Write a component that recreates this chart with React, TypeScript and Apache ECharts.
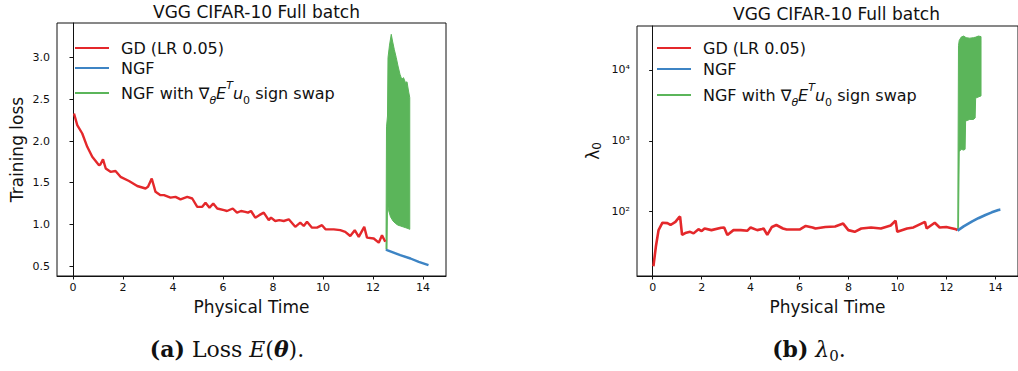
import React, { useEffect, useRef } from "react";
import * as echarts from "echarts";

// ---------- data ----------
const titleText = "VGG CIFAR-10 Full batch";
const xName = "Physical Time";
const seriesNames = ["GD (LR 0.05)", "NGF", "NGF with \u2207\u03b8E\u1d40u0 sign swap"];
const xTicks = [0, 2, 4, 6, 8, 10, 12, 14];
const lossTicks = [0.5, 1.0, 1.5, 2.0, 2.5, 3.0];
const lambdaTicks = [100, 1000, 10000];
const lambdaTickLabels = ["10\u00b2", "10\u00b3", "10\u2074"];
const lambdaMinorTicks = [20, 30, 40, 50, 60, 70, 80, 90, 200, 300, 400, 500, 600, 700, 800, 900,
  2000, 3000, 4000, 5000, 6000, 7000, 8000, 9000, 20000, 30000, 40000];

// Loss E(theta): [physical time, loss]
const gdLoss = [
  [0.04, 2.33], [0.17, 2.19], [0.37, 2.09], [0.57, 1.93], [0.77, 1.81], [1.04, 1.71], [1.1, 1.72],
  [1.2, 1.78], [1.31, 1.67], [1.5, 1.63], [1.7, 1.64], [1.9, 1.57], [2.24, 1.52], [2.57, 1.46],
  [2.9, 1.43], [3.0, 1.45], [3.15, 1.55], [3.3, 1.39], [3.5, 1.35], [3.64, 1.35], [3.9, 1.32],
  [4.1, 1.33], [4.3, 1.3], [4.57, 1.33], [4.77, 1.31], [4.97, 1.21], [5.17, 1.21], [5.3, 1.26],
  [5.46, 1.2], [5.61, 1.25], [5.77, 1.19], [6.04, 1.17], [6.16, 1.16], [6.39, 1.19], [6.56, 1.14],
  [6.72, 1.16], [6.89, 1.15], [7.0, 1.14], [7.12, 1.16], [7.29, 1.08], [7.45, 1.11], [7.63, 1.14],
  [7.83, 1.05], [7.92, 1.08], [8.09, 1.04], [8.25, 1.05], [8.43, 1.04], [8.63, 1.06], [8.89, 0.97],
  [9.09, 1.02], [9.23, 0.98], [9.36, 1.03], [9.56, 0.96], [9.76, 0.96], [9.96, 0.99], [10.1, 0.94],
  [10.43, 0.94], [10.69, 0.93], [10.89, 0.91], [11.09, 0.86], [11.27, 0.93], [11.43, 0.85],
  [11.65, 0.97], [11.76, 0.84], [12.03, 0.83], [12.23, 0.78], [12.36, 0.87], [12.49, 0.79],
];
const ngfLoss = [[12.52, 0.7], [12.56, 0.69], [13.09, 0.63], [13.5, 0.59], [13.83, 0.55], [14.22, 0.51]];
const swapLossUpper = [
  [12.52, 0.7], [12.54, 2.17], [12.58, 2.3], [12.6, 3.0], [12.66, 3.15], [12.73, 3.28], [12.78, 3.2],
  [12.85, 3.1], [12.93, 3.0], [13.0, 2.9], [13.08, 2.8], [13.15, 2.74], [13.22, 2.76], [13.3, 2.7],
  [13.36, 2.71], [13.42, 2.6], [13.47, 2.52],
];
const swapLossLower = [
  [12.52, 0.7], [12.56, 0.7], [12.58, 1.25], [12.62, 1.17], [12.7, 1.09], [12.8, 1.04], [12.9, 1.01],
  [13.0, 0.99], [13.1, 0.98], [13.2, 0.97], [13.3, 0.96], [13.4, 0.95], [13.47, 0.94],
];

// lambda_0: [physical time, lambda]
const gdLambda = [
  [0.03, 17], [0.13, 32], [0.24, 55], [0.4, 70], [0.6, 69], [0.73, 65], [0.93, 72], [1.07, 83],
  [1.12, 85], [1.2, 47], [1.33, 50], [1.53, 52], [1.67, 49.5], [1.87, 56.6], [2.0, 53.4], [2.12, 58],
  [2.4, 55], [2.8, 59.4], [2.92, 60], [3.05, 47], [3.3, 55], [3.6, 55], [3.87, 54], [4.0, 60],
  [4.27, 55], [4.47, 57], [4.53, 58], [4.68, 47], [4.87, 61], [5.05, 65], [5.32, 58], [5.47, 56],
  [5.72, 56], [6.0, 56], [6.25, 63], [6.53, 60], [6.65, 58], [7.05, 61], [7.45, 62], [7.78, 68],
  [7.99, 55], [8.25, 52], [8.52, 58], [8.92, 60], [9.32, 58], [9.72, 64], [9.92, 75], [9.99, 52],
  [10.39, 58], [10.65, 60], [11.12, 72], [11.19, 58], [11.52, 70], [11.72, 60], [11.99, 61],
  [12.39, 56.5], [12.45, 55],
];
const ngfLambda = [[12.45, 54], [12.7, 62], [13.05, 73], [13.3, 81], [13.59, 90], [13.85, 98], [14.12, 106], [14.2, 107]];
const swapLambdaUpper = [
  [12.46, 55], [12.49, 22000], [12.52, 26000], [12.6, 29000], [12.7, 30000], [12.8, 28500],
  [12.95, 28000], [13.1, 28500], [13.2, 29000], [13.3, 30000], [13.41, 29500],
];
const swapLambdaLower = [
  [12.46, 55], [12.49, 60], [12.52, 700], [12.6, 760], [12.7, 740], [12.76, 760], [12.78, 1900],
  [12.95, 2000], [13.1, 2000], [13.17, 2100], [13.19, 4000], [13.41, 4300],
];

// ---------- style ----------
const RED = "#e4282b";
const BLUE = "#3d84c4";
const GREEN = "#5bb55a";
const INK = "#111111";
const FONT = "DejaVu Sans";

const legendRich = {
  pad: { width: 7 },
  n: { fontSize: 16, fontFamily: FONT, color: INK, lineHeight: 20 },
  it: { fontSize: 16, fontFamily: FONT, color: INK, fontStyle: "italic", lineHeight: 20 },
  sub: { fontSize: 11, fontFamily: FONT, color: INK, verticalAlign: "bottom", lineHeight: 14 },
  subi: { fontSize: 11, fontFamily: FONT, color: INK, fontStyle: "italic", verticalAlign: "bottom", lineHeight: 14 },
  sup: { fontSize: 11, fontFamily: FONT, color: INK, fontStyle: "italic", verticalAlign: "top", lineHeight: 26 },
};

function legendFormatter(name: string) {
  if (name === seriesNames[2]) {
    return "{pad| }{n|NGF with \u2207}{subi|\u03b8}{it|E}{sup|T}{it|u}{sub|0}{n| sign swap}";
  }
  return "{pad| }{n|" + name + "}";
}

function band(upper: number[][], lower: number[][], xi: number, yi: number, mid: number[]) {
  return {
    type: "custom",
    name: seriesNames[2],
    xAxisIndex: xi,
    yAxisIndex: yi,
    clip: true,
    itemStyle: { color: GREEN },
    data: [mid],
    renderItem: (_params: any, api: any) => {
      const pts = upper.map((p) => api.coord(p)).concat(lower.slice().reverse().map((p) => api.coord(p)));
      return {
        type: "polygon",
        shape: { points: pts },
        style: { fill: GREEN, stroke: GREEN, lineWidth: 1 },
      };
    },
  };
}

function xAxis(gridIndex: number) {
  return {
    type: "value",
    gridIndex,
    min: -0.64,
    max: 14.92,
    axisLine: { show: true, lineStyle: { color: INK, width: 1 } },
    axisTick: { show: true, customValues: xTicks, length: 3.5, lineStyle: { color: INK } },
    axisLabel: { customValues: xTicks, fontSize: 11, color: INK, margin: 6, fontFamily: FONT },
    splitLine: { show: false },
    name: xName,
    nameLocation: "middle",
    nameGap: 22,
    nameTextStyle: { fontSize: 17, color: INK, fontFamily: FONT },
  };
}

export default function App() {
  const ref = useRef<HTMLDivElement>(null);
  useEffect(() => {
    if (!ref.current) return;
    const chart = echarts.init(ref.current, undefined, { renderer: "svg" });
    const option: any = {
      animation: false,
      textStyle: { fontFamily: FONT },
      title: [
        { text: titleText, left: 251.5, top: -2, textAlign: "center",
          textStyle: { fontSize: 17, fontWeight: "normal", color: INK, fontFamily: FONT } },
        { text: titleText, left: 831.5, top: 0, textAlign: "center",
          textStyle: { fontSize: 17, fontWeight: "normal", color: INK, fontFamily: FONT } },
      ],
      legend: [
        { left: 70, top: 35, orient: "vertical", itemWidth: 34, itemHeight: 2, itemGap: 4, icon: "rect",
          selectedMode: false, data: seriesNames, formatter: legendFormatter,
          textStyle: { fontSize: 16, color: INK, fontFamily: FONT, rich: legendRich } },
        { left: 652, top: 35, orient: "vertical", itemWidth: 34, itemHeight: 2, itemGap: 5, icon: "rect",
          selectedMode: false, data: seriesNames, formatter: legendFormatter,
          textStyle: { fontSize: 16, color: INK, fontFamily: FONT, rich: legendRich } },
      ],
      grid: [
        { left: 57, top: 23, width: 389, height: 253, show: true, borderColor: INK, borderWidth: 1 },
        { left: 637, top: 26, width: 389, height: 250, show: true, borderColor: INK, borderWidth: 1 },
      ],
      xAxis: [xAxis(0), xAxis(1)],
      yAxis: [
        {
          type: "value", gridIndex: 0, min: 0.38, max: 3.416,
          axisLine: { show: true, lineStyle: { color: INK } },
          axisTick: { show: true, customValues: lossTicks, length: 3.5, lineStyle: { color: INK } },
          axisLabel: { customValues: lossTicks, formatter: (v: number) => v.toFixed(1), fontSize: 11, color: INK, margin: 7, fontFamily: FONT },
          splitLine: { show: false },
          name: "Training loss", nameLocation: "middle", nameGap: 32,
          nameTextStyle: { fontSize: 17, color: INK, fontFamily: FONT },
        },
        {
          type: "log", logBase: 10, gridIndex: 1, min: 12.4, max: 41600,
          axisLine: { show: true, lineStyle: { color: INK } },
          axisTick: { show: true, customValues: lambdaTicks, length: 3.5, lineStyle: { color: INK } },
          axisLabel: {
            customValues: lambdaTicks,
            formatter: (v: number) => lambdaTickLabels[lambdaTicks.findIndex((t) => Math.abs(t - v) / t < 1e-6)] ?? "",
            fontSize: 11, color: INK, margin: 7, fontFamily: FONT,
          },
          splitLine: { show: false },
          name: "{l|\u03bb}{s|0}", nameLocation: "middle", nameGap: 34,
          nameTextStyle: {
            fontSize: 17, color: INK, fontFamily: FONT,
            rich: {
              l: { fontSize: 17, fontFamily: FONT, color: INK, lineHeight: 20 },
              s: { fontSize: 12, fontFamily: FONT, color: INK, verticalAlign: "bottom", lineHeight: 14 },
            },
          },
        },
        {
          type: "log", logBase: 10, gridIndex: 1, min: 12.4, max: 41600,
          axisLine: { show: false },
          axisTick: { show: true, customValues: lambdaMinorTicks, length: 2, lineStyle: { color: INK, width: 0.8 } },
          axisLabel: { show: false },
          splitLine: { show: false },
        },
      ],
      series: [
        { type: "line", name: seriesNames[0], xAxisIndex: 0, yAxisIndex: 0, data: gdLoss, showSymbol: false,
          symbol: "none", color: RED, lineStyle: { color: RED, width: 2.4 } },
        { type: "line", name: seriesNames[1], xAxisIndex: 0, yAxisIndex: 0, data: ngfLoss, showSymbol: false,
          symbol: "none", color: BLUE, lineStyle: { color: BLUE, width: 2.4 } },
        band(swapLossUpper, swapLossLower, 0, 0, [13, 2]),
        { type: "line", name: seriesNames[0], xAxisIndex: 1, yAxisIndex: 1, data: gdLambda, showSymbol: false,
          symbol: "none", color: RED, lineStyle: { color: RED, width: 2.6 } },
        { type: "line", name: seriesNames[1], xAxisIndex: 1, yAxisIndex: 1, data: ngfLambda, showSymbol: false,
          symbol: "none", color: BLUE, lineStyle: { color: BLUE, width: 2.6 } },
        band(swapLambdaUpper, swapLambdaLower, 1, 1, [13, 1000]),
      ],
      graphic: [
        {
          type: "text", x: 227, y: 349,
          style: {
            text: "{b|(a)}{r| Loss }{i|E}{r|(}{bi|\u03b8}{r|).}",
            align: "center", verticalAlign: "middle",
            rich: {
              b: { fontFamily: "DejaVu Serif", fontSize: 22, fontWeight: "bold", fill: INK },
              r: { fontFamily: "DejaVu Serif", fontSize: 22, fill: INK },
              i: { fontFamily: "DejaVu Serif", fontSize: 22, fontStyle: "italic", fill: INK },
              bi: { fontFamily: "DejaVu Serif", fontSize: 22, fontStyle: "italic", fontWeight: "bold", fill: INK },
            },
          },
        },
        {
          type: "text", x: 809, y: 349,
          style: {
            text: "{b|(b)}{r| }{i|\u03bb}{s|0}{r|.}",
            align: "center", verticalAlign: "middle",
            rich: {
              b: { fontFamily: "DejaVu Serif", fontSize: 22, fontWeight: "bold", fill: INK, lineHeight: 28 },
              r: { fontFamily: "DejaVu Serif", fontSize: 22, fill: INK, lineHeight: 28 },
              i: { fontFamily: "DejaVu Serif", fontSize: 22, fontStyle: "italic", fill: INK, lineHeight: 28 },
              s: { fontFamily: "DejaVu Serif", fontSize: 15, fill: INK, verticalAlign: "bottom", lineHeight: 22 },
            },
          },
        },
      ],
    };
    chart.setOption(option);
    return () => chart.dispose();
  }, []);
  return (
    <div
      ref={ref}
      style={{ position: "absolute", left: 0, top: 0, width: 1018, height: 371, background: "#fff" }}
    />
  );
}
